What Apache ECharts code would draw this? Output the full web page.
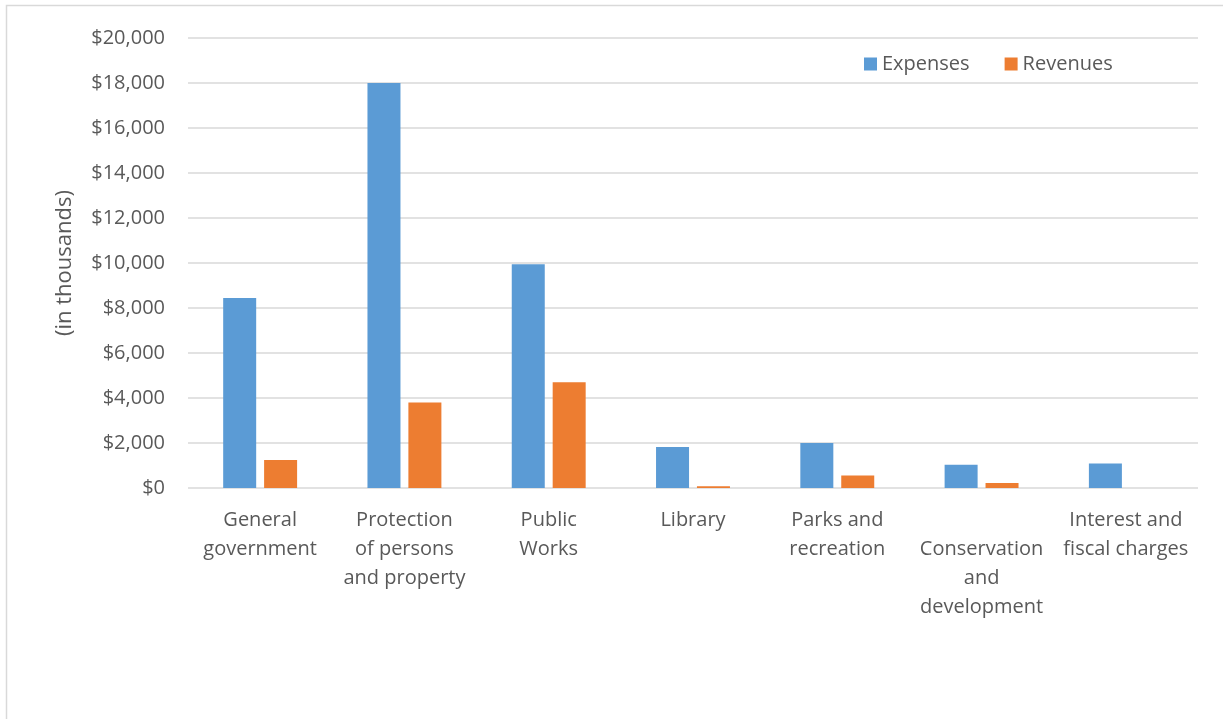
<!DOCTYPE html>
<html>
<head>
<meta charset="utf-8">
<script src="https://cdn.jsdelivr.net/npm/echarts@6/dist/echarts.min.js"></script>
<style>
html,body{margin:0;padding:0;background:#fff;}
#c{width:1223px;height:719px;}
</style>
</head>
<body>
<div id="c"></div>
<script>
const categories = [
  "General\ngovernment",
  "Protection\nof persons\nand property",
  "Public\nWorks",
  "Library",
  "Parks and\nrecreation",
  "\nConservation\nand\ndevelopment",
  "Interest and\nfiscal charges"
];
const expenses = [8450, 18000, 9950, 1820, 2000, 1030, 1090];
const revenues = [1250, 3800, 4700, 80, 560, 220, 0];
const yTicks = { min: 0, max: 20000, interval: 2000 };

const FONT = "Open Sans";
const TXT = "#595959";
const chart = echarts.init(document.getElementById('c'), null, {renderer: 'canvas'});
chart.setOption({
  animation: false,
  backgroundColor: '#fff',
  textStyle: { fontFamily: FONT },
  graphic: [{
    type: 'rect',
    shape: { x: 6.5, y: 5.5, width: 1300, height: 800 },
    style: { fill: 'none', stroke: '#d9d9d9', lineWidth: 1.5 },
    silent: true
  }],
  legend: {
    data: ['Expenses', 'Revenues'],
    left: 859, top: 49,
    icon: 'rect', itemWidth: 13, itemHeight: 13, itemGap: 35,
    textStyle: { fontFamily: FONT, fontSize: 20, color: TXT }
  },
  grid: { left: 188, right: 25, top: 38, bottom: 231, containLabel: false },
  xAxis: {
    type: 'category',
    data: categories,
    axisLine: { show: false },
    axisTick: { show: false },
    axisLabel: { interval: 0, margin: 18, fontFamily: FONT, fontSize: 20, color: TXT, lineHeight: 29, align: 'center' }
  },
  yAxis: {
    type: 'value',
    min: yTicks.min, max: yTicks.max, interval: yTicks.interval,
    name: '(in thousands)',
    nameLocation: 'middle',
    nameGap: 112,
    nameRotate: 90,
    nameTextStyle: { fontFamily: FONT, fontSize: 22, color: TXT },
    axisLine: { show: false },
    axisTick: { show: false },
    splitLine: { lineStyle: { color: '#d9d9d9', width: 1.5 } },
    axisLabel: {
      margin: 23, fontFamily: FONT, fontSize: 20, color: TXT,
      formatter: v => '$' + v.toLocaleString('en-US')
    }
  },
  series: [
    { name: 'Expenses', type: 'bar', data: expenses, barWidth: 33, barGap: '24%',
      itemStyle: { color: '#5B9BD5' } },
    { name: 'Revenues', type: 'bar', data: revenues, barWidth: 33,
      itemStyle: { color: '#ED7D31' } }
  ]
});
</script>
</body>
</html>
